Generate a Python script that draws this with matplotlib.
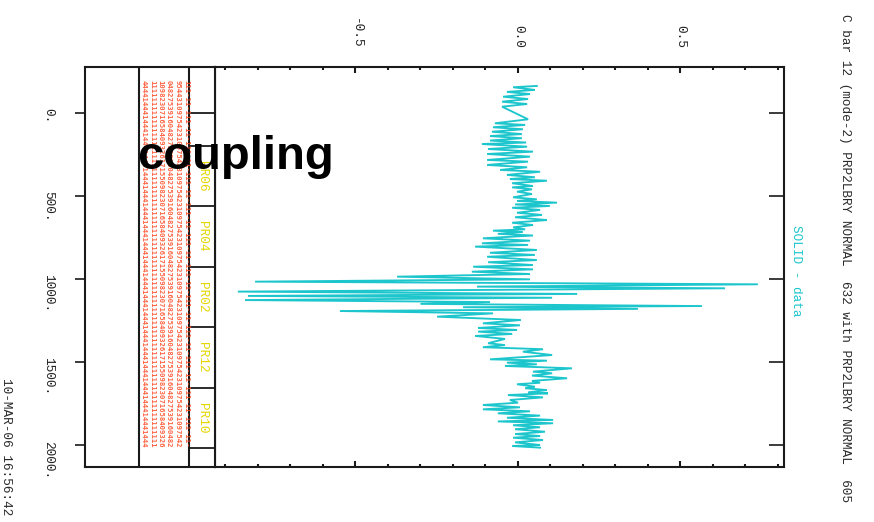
import matplotlib
matplotlib.use("Agg")
import matplotlib.pyplot as plt
from matplotlib.ticker import MultipleLocator, FixedLocator

# ---- measured orbit difference (position along ring [m], coupling value) ----
positions = [-163, -155, -139, -127, -114, -98, -84, -68, -54, -38,
             38, 62, 72, 86, 98, 113, 127, 139, 152, 166,
             178, 187, 203, 217, 233, 247, 263, 283, 293, 313,
             327, 343, 354, 373, 387, 398, 408, 423, 440, 448,
             460, 474, 488, 508, 520, 530, 540, 551, 560, 571,
             584, 601, 614, 628, 645, 661, 675, 689, 701, 709,
             717, 728, 738, 755, 769, 785, 795, 805, 825, 842,
             855, 866, 886, 899, 916, 926, 942, 956, 970, 986,
             1002, 1016, 1032, 1046, 1056, 1076, 1090, 1102, 1113, 1127,
             1139, 1150, 1163, 1170, 1180, 1193, 1207, 1227, 1247, 1267,
             1279, 1295, 1307, 1317, 1331, 1343, 1361, 1387, 1398, 1411,
             1423, 1438, 1458, 1484, 1492, 1504, 1514, 1524, 1538, 1558,
             1568, 1582, 1598, 1614, 1625, 1634, 1649, 1658, 1669, 1683,
             1689, 1699, 1713, 1729, 1745, 1759, 1773, 1785, 1797, 1809,
             1823, 1836, 1849, 1858, 1869, 1881, 1893, 1905, 1920, 1934,
             1946, 1956, 1970, 1984, 2000, 2006, 2016]
values = [0.058, -0.015, 0.052, -0.034, 0.037, -0.046, 0.031, -0.049, 0.028, -0.049,
          0.031, -0.071, 0.022, -0.077, 0.015, -0.080, 0.012, -0.086, 0.012, -0.086,
          0.025, -0.111, 0.028, -0.092, 0.046, -0.095, 0.037, -0.095, 0.031, -0.095,
          0.028, -0.055, 0.068, -0.034, 0.052, -0.025, 0.089, -0.018, 0.046, -0.018,
          0.043, -0.003, 0.043, -0.015, 0.058, -0.003, 0.120, -0.009, 0.098, -0.018,
          0.068, -0.003, 0.074, -0.009, 0.089, -0.018, 0.046, -0.015, 0.022, -0.077,
          0.015, -0.062, 0.046, -0.108, 0.037, -0.111, 0.031, -0.132, 0.058, -0.086,
          0.052, -0.095, 0.058, -0.092, 0.046, -0.138, 0.046, -0.142, 0.037, -0.372,
          0.037, -0.809, 0.738, -0.126, 0.637, -0.862, 0.182, -0.831, 0.105, -0.840,
          -0.086, -0.300, 0.566, -0.169, 0.369, -0.548, -0.077, -0.249, 0.009, -0.108,
          0.006, -0.123, -0.003, -0.123, -0.018, -0.132, -0.040, -0.092, -0.040, -0.108,
          0.077, 0.015, 0.105, -0.086, 0.089, -0.034, 0.058, -0.040, 0.166, 0.046,
          0.105, 0.043, 0.151, 0.043, 0.068, -0.003, 0.052, 0.022, 0.089, 0.031,
          0.092, -0.031, 0.077, -0.025, 0.000, -0.108, 0.006, -0.108, 0.037, -0.062,
          0.068, -0.034, 0.108, -0.062, 0.108, -0.015, 0.068, -0.009, 0.083, -0.009,
          0.068, -0.015, 0.077, -0.009, 0.068, -0.018, 0.068]

# ---- lattice strip: element boundaries and names ----
lattice_edges = [0, 199, 560, 928, 1289, 1657, 2018]
lattice_names = ["", "PR06", "PR04", "PR02", "PR12", "PR10"]

# ---- axis tick labels ----
value_ticks = [-0.5, 0.0, 0.5]
value_labels = ["-0.5", "0.0", "0.5"]
pos_ticks = [0, 500, 1000, 1500, 2000]
pos_labels = ["0.", "500.", "1000.", "1500.", "2000."]

title = "C bar 12 (mode-2) PRP2LBRY NORMAL  632 with PRP2LBRY NORMAL  605"
legend_text = "SOLID - data"
stamp = "10-MAR-06 16:56:42"

# element listing printed beside the lattice strip
listing = [
    "444414441444144414441444144414441444144414441444144414441444144414441444144414441444",
    "111111111111111111111111111111111111111111111111111111111111111111111111111111111111",
    "109823071658409326171550982307165840932617155098230716584093261715509823071658409326",
    "048275391604827539160482753916048275391604827539160482753916048275391604827539160482",
    "954431097542310975423109754231097542310975423109754231097542310975423109754231097542",
    "111-11-111-11-111-11-111-11-111-11-111-11-111-11-111-11-111-11-111-11-111-11-111-11-",
]

W, H = 874, 522
MONO = "Liberation Mono"
CYAN = "#1cc6cc"
FRAME = "#1a1a1a"


def fx(px):
    return px / W


def fy(py):
    return 1 - py / H


fig = plt.figure(figsize=(W / 100, H / 100), dpi=100)
fig.patch.set_facecolor("white")

S_TOP, S_BOT = -277, 2132.5

# ---- main data panel ----
ax = fig.add_axes([fx(215), fy(467), (784 - 215) / W, (467 - 67) / H])
ax.plot(values, positions, color=CYAN, lw=1.35, solid_joinstyle="miter")
ax.set_xlim(-0.9323, 0.8185)
ax.set_ylim(S_BOT, S_TOP)
for sp in ax.spines.values():
    sp.set_linewidth(1.5)
    sp.set_color(FRAME)

ax.xaxis.set_major_locator(FixedLocator(value_ticks))
ax.set_xticklabels(value_labels, family=MONO, fontsize=9.2, color="#222222")
ax.xaxis.set_minor_locator(MultipleLocator(0.1))
ax.tick_params(axis="x", which="both", direction="in", top=True, bottom=True,
               labeltop=True, labelbottom=False, labelrotation=270,
               color=FRAME, width=1.5)
ax.tick_params(axis="x", which="major", length=4.5, pad=13.5)
ax.tick_params(axis="x", which="minor", length=2.2)

ax.yaxis.set_major_locator(FixedLocator(pos_ticks))
ax.yaxis.set_minor_locator(FixedLocator([]))
ax.tick_params(axis="y", which="major", direction="in", left=False, right=True,
               labelleft=False, labelright=False, length=11, width=1.2,
               color=FRAME)

# ---- lattice / listing panel ----
lat = fig.add_axes([fx(85), fy(467), (215 - 85) / W, (467 - 67) / H])
lat.set_xlim(85, 215)
lat.set_ylim(S_BOT, S_TOP)
for sp in lat.spines.values():
    sp.set_linewidth(1.5)
    sp.set_color(FRAME)
lat.set_xticks([])
lat.yaxis.set_major_locator(FixedLocator(pos_ticks))
lat.set_yticklabels(pos_labels, family=MONO, fontsize=9.2, color="#222222")
lat.tick_params(axis="y", direction="out", left=True, right=False, length=7,
                width=1.2, color=FRAME, pad=15.5, labelrotation=270)

lat.axvline(139, color=FRAME, lw=1.5)
lat.axvline(189, color=FRAME, lw=1.5)
lat.hlines(lattice_edges, 189, 215, color=FRAME, lw=1.3)
for lo, hi, name in zip(lattice_edges[:-1], lattice_edges[1:], lattice_names):
    if name:
        lat.text(202, (lo + hi) / 2, name, rotation=270, ha="center", va="center",
                 family=MONO, fontsize=9.2, color="#e4d600")

col_x = [143.5, 152, 160.5, 169, 177.5, 186]
for xc, line in zip(col_x, listing):
    lat.text(xc, 906, line, rotation=270, ha="center", va="center",
             family="DejaVu Sans Mono", fontsize=5.2, fontweight="bold",
             color="#ff4a24", alpha=0.85)

# ---- annotations around the frame ----
fig.text(fx(845), fy(258), title, rotation=270, ha="center", va="center",
         family=MONO, fontsize=9.2, color="#2a2a2a")
fig.text(fx(796), fy(271), legend_text, rotation=270, ha="center", va="center",
         family=MONO, fontsize=9.2, color=CYAN)
fig.text(fx(6), fy(447), stamp, rotation=270, ha="center", va="center",
         family=MONO, fontsize=9.2, color="#2a2a2a")

fig.text(fx(137), fy(169), "coupling", ha="left", va="baseline",
         family="Liberation Sans", fontweight="bold", fontsize=34, color="black",
         zorder=10)

fig.savefig("out.png", dpi=100, facecolor="white")
